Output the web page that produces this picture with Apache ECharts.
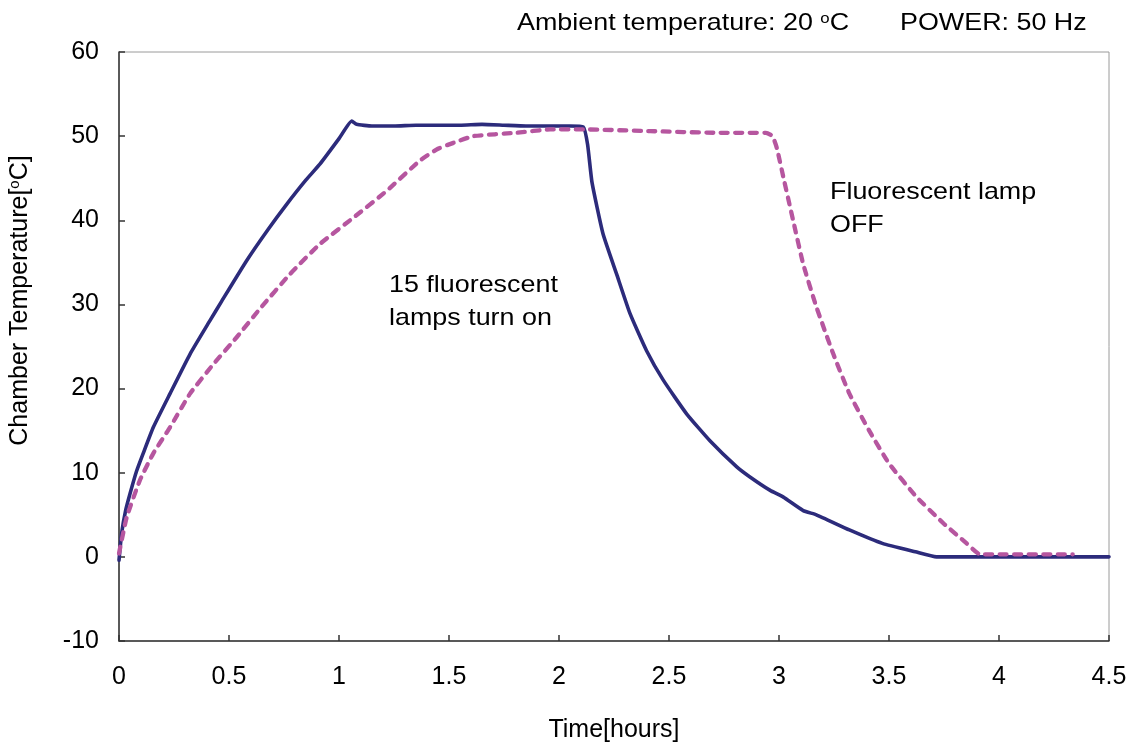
<!DOCTYPE html>
<html>
<head>
<meta charset="utf-8">
<style>
  html, body { margin: 0; padding: 0; background: #fff; }
  #chart { width: 1130px; height: 747px; }
</style>
<script src="https://cdn.jsdelivr.net/npm/echarts@6/dist/echarts.min.js"></script>
</head>
<body>
<div id="chart"></div>
<script>
// Chamber temperature, lamps ON run (solid) — time [h] and temperature [°C]
const timeOn = [0, 0.012, 0.03, 0.05, 0.08, 0.11, 0.156, 0.232, 0.323, 0.414, 0.467, 0.58, 0.68, 0.762, 0.85, 0.914, 1.0, 1.058, 1.08, 1.15, 1.25, 1.35, 1.45, 1.55, 1.65, 1.75, 1.85, 1.95, 2.05, 2.11, 2.13, 2.15, 2.2, 2.262, 2.323, 2.398, 2.474, 2.58, 2.686, 2.808, 2.868, 2.96, 3.02, 3.11, 3.17, 3.32, 3.47, 3.62, 3.716, 4.5];
const tempOn = [-0.4, 2.8, 5.5, 7.5, 10.2, 12.3, 15.4, 19.4, 24.1, 28.1, 30.4, 35.2, 39.0, 41.9, 44.8, 46.7, 49.7, 51.8, 51.4, 51.2, 51.2, 51.3, 51.3, 51.3, 51.4, 51.3, 51.2, 51.2, 51.2, 51.1, 49.0, 44.5, 38.4, 33.6, 28.9, 24.5, 21.0, 17.0, 13.8, 10.7, 9.5, 7.9, 7.1, 5.5, 5.0, 3.2, 1.6, 0.6, 0, 0];

// Second run (dashed)
const timeOff = [0, 0.035, 0.095, 0.156, 0.232, 0.323, 0.429, 0.535, 0.641, 0.777, 0.914, 1.065, 1.217, 1.368, 1.45, 1.52, 1.61, 1.808, 1.96, 2.11, 2.414, 2.716, 2.94, 2.97, 2.99, 3.02, 3.065, 3.11, 3.17, 3.247, 3.32, 3.41, 3.5, 3.626, 3.747, 3.853, 3.914, 4.335];
const tempOff = [0.4, 4.7, 9.1, 12.3, 15.4, 19.4, 22.9, 26.1, 29.5, 33.6, 37.2, 40.3, 43.5, 47.1, 48.5, 49.2, 50.0, 50.4, 50.8, 50.8, 50.6, 50.4, 50.4, 50.0, 48.6, 45.1, 39.9, 34.8, 29.7, 24.1, 19.4, 15.0, 11.1, 7.1, 4.0, 1.6, 0.3, 0.3];

const xTicks = { min: 0, max: 4.5, step: 0.5 };
const yTicks = { min: -10, max: 60, step: 10 };

const pairs = (xs, ys) => xs.map((x, i) => [x, ys[i]]);
const font = '"Liberation Sans", Arial, sans-serif';
const wide = 1.12; // horizontal stretch of the free-standing captions

const chart = echarts.init(document.getElementById('chart'), null, { renderer: 'canvas' });

chart.setOption({
  animation: false,
  backgroundColor: '#ffffff',
  textStyle: { fontFamily: font },
  grid: {
    left: 119, right: 21, top: 52, bottom: 106,
    containLabel: false,
    outerBoundsMode: 'none',
    show: true, borderColor: '#9a9a9a', borderWidth: 1, backgroundColor: 'transparent'
  },
  xAxis: {
    type: 'value',
    min: xTicks.min, max: xTicks.max, interval: xTicks.step,
    name: 'Time[hours]',
    nameLocation: 'middle',
    nameGap: 77,
    nameTextStyle: { fontSize: 25, color: '#000', fontFamily: font },
    axisLine: { show: true, onZero: false, lineStyle: { color: '#333', width: 1.5 } },
    axisTick: { show: true, inside: true, length: 6, lineStyle: { color: '#333', width: 1.5 } },
    axisLabel: { fontSize: 25, color: '#000', margin: 24, fontFamily: font },
    splitLine: { show: false }
  },
  yAxis: {
    type: 'value',
    min: yTicks.min, max: yTicks.max, interval: yTicks.step,
    name: '{n|Chamber Temperature[}{s|o}{n|C]}',
    nameLocation: 'middle',
    nameGap: 85,
    nameTextStyle: {
      color: '#000',
      padding: [0, 0, 0, 92],
      rich: {
        n: { fontSize: 25, fontFamily: font, color: '#000' },
        s: { fontSize: 15, fontFamily: font, color: '#000', verticalAlign: 'top', padding: [0, 0, 12, 0] }
      }
    },
    axisLine: { show: true, onZero: false, lineStyle: { color: '#333', width: 1.5 } },
    axisTick: { show: true, inside: true, length: 6, lineStyle: { color: '#333', width: 1.5 } },
    axisLabel: { fontSize: 25, color: '#000', margin: 20, fontFamily: font },
    splitLine: { show: false }
  },
  series: [
    {
      type: 'line',
      data: pairs(timeOn, tempOn),
      showSymbol: false,
      smooth: 0.15,
      lineStyle: { color: '#2c2b7b', width: 3.6, cap: 'round', join: 'round' },
      z: 2
    },
    {
      type: 'line',
      data: pairs(timeOff, tempOff),
      showSymbol: false,
      smooth: 0.15,
      lineStyle: { color: '#b6569f', width: 4.3, type: [7, 7.5], cap: 'round', join: 'round' },
      z: 3
    }
  ],
  graphic: [
    {
      type: 'text', x: 517, y: 11, scaleX: wide,
      style: {
        text: '{n|Ambient temperature: 20 }{s|o}{n|C}',
        rich: {
          n: { fontSize: 24, fontFamily: font, fill: '#000', lineHeight: 24 },
          s: { fontSize: 15, fontFamily: font, fill: '#000', verticalAlign: 'top', padding: [0, 0, 10, 0] }
        }
      }
    },
    {
      type: 'text', x: 900, y: 11, scaleX: wide,
      style: { text: 'POWER: 50 Hz', fontSize: 24, lineHeight: 24, fontFamily: font, fill: '#000' }
    },
    {
      type: 'text', x: 389, y: 269, scaleX: wide,
      style: { text: '15 fluorescent\nlamps turn on', fontSize: 24, lineHeight: 33, fontFamily: font, fill: '#000' }
    },
    {
      type: 'text', x: 830, y: 176, scaleX: wide,
      style: { text: 'Fluorescent lamp\nOFF', fontSize: 24, lineHeight: 33, fontFamily: font, fill: '#000' }
    }
  ]
});
</script>
</body>
</html>
